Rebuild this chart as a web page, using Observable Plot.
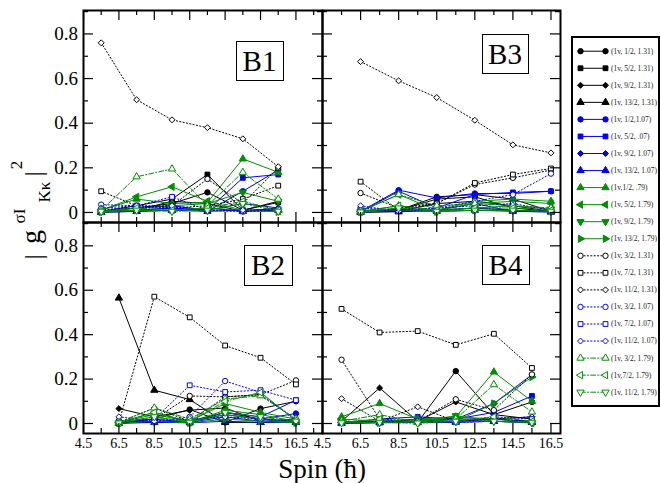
<!DOCTYPE html>
<html><head><meta charset="utf-8">
<script src="https://cdn.jsdelivr.net/npm/d3@7"></script>
<script src="https://cdn.jsdelivr.net/npm/@observablehq/plot@0.6"></script>
<style>
body{margin:0;background:#fff}
#chart{position:relative;width:660px;height:483px;overflow:hidden;font-family:'Liberation Serif','DejaVu Serif',serif;background:#fff}
#chart svg{position:absolute;left:0;top:0}
#chart svg text{font-family:'Liberation Serif','DejaVu Serif',serif !important}
</style></head><body><div id="chart"></div>
<script>
// ---------- data ----------
const spinOdd = [5.5, 7.5, 9.5, 11.5, 13.5, 15.5];
const spinEven = [6.5, 8.5, 10.5, 12.5, 14.5, 16.5];
const xTicks = [4.5, 6.5, 8.5, 10.5, 12.5, 14.5, 16.5];
const xTickLabels = ["4.5", "6.5", "8.5", "10.5", "12.5", "14.5", "16.5"];
const yTicks = [0, 0.2, 0.4, 0.6, 0.8];
const yTickLabels = ["0", "0.2", "0.4", "0.6", "0.8"];
const panelNames = ["B1", "B2", "B3", "B4"];
const seriesLabels = [
  "(1v, 1/2, 1.31)", "(1v, 5/2, 1.31)", "(1v, 9/2, 1.31)", "(1v, 13/2, 1.31)",
  "(1v, 1/2,1.07)", "(1v, 5/2, .07)", "(1v, 9/2, 1.07)", "(1v, 13/2, 1.07)",
  "(1v,1/2, .79)", "(1v, 5/2, 1.79)", "(1v, 9/2, 1.79)", "(1v, 13/2, 1.79)",
  "(1v, 3/2, 1.31)", "(1v, 7/2, 1.31)", "(1v, 11/2, 1.31)",
  "(1v, 3/2, 1.07)", "(1v, 7/2, 1.07)", "(1v, 11/2, 1.07)",
  "(1v, 3/2, 1.79)", "(1v,7/2, 1.79)", "(1v, 11/2, 1.79)"
];
// values per series (legend order), one row per series, columns follow spin list
const b1 = [
  [0.005, 0.02, 0.04, 0.09, 0.01, 0.05],
  [0.005, 0.03, 0.06, 0.17, 0.01, 0.045],
  [0.002, 0.01, 0.05, 0.04, 0.005, 0.02],
  [0.001, 0.005, 0.01, 0.02, 0.005, 0.01],
  [0.005, 0.01, 0.02, 0.005, 0.095, 0.19],
  [0.003, 0.01, 0.02, 0.01, 0.155, 0.17],
  [0.003, 0.02, 0.03, 0.01, 0.04, 0.02],
  [0.001, 0.005, 0.01, 0.005, 0.01, 0.015],
  [0.01, 0.06, 0.04, 0.045, 0.24, 0.18],
  [0.01, 0.07, 0.115, 0.05, 0.01, 0.005],
  [0.005, 0.02, 0.03, 0.04, 0.09, 0.05],
  [0.002, 0.01, 0.01, 0.02, 0.01, 0.003],
  [0.01, 0.02, 0.03, 0.15, 0.04, 0.2],
  [0.095, 0.03, 0.02, 0.03, 0.06, 0.12],
  [0.76, 0.505, 0.415, 0.38, 0.33, 0.205],
  [0.035, 0.03, 0.02, 0.01, 0.005, 0.01],
  [0.01, 0.03, 0.07, 0.01, 0.005, 0.01],
  [0.02, 0.03, 0.03, 0.01, 0.01, 0.015],
  [0.01, 0.16, 0.195, 0.03, 0.18, 0.06],
  [0.005, 0.02, 0.01, 0.02, 0.05, 0.01],
  [0.005, 0.01, 0.005, 0.01, 0.04, 0.005]
];
const b2 = [
  [0.003, 0.02, 0.063, 0.005, 0.067, 0.1],
  [0.002, 0.01, 0.01, 0.05, 0.02, 0.01],
  [0.067, 0.03, 0.06, 0.07, 0.01, 0.005],
  [0.565, 0.15, 0.108, 0.005, 0.005, 0.005],
  [0.003, 0.005, 0.01, 0.04, 0.02, 0.045],
  [0.002, 0.01, 0.005, 0.05, 0.03, 0.105],
  [0.002, 0.02, 0.005, 0.03, 0.01, 0.02],
  [0.001, 0.005, 0.003, 0.01, 0.005, 0.005],
  [0.005, 0.04, 0.01, 0.09, 0.05, 0.02],
  [0.005, 0.05, 0.005, 0.06, 0.04, 0.01],
  [0.003, 0.03, 0.005, 0.04, 0.02, 0.005],
  [0.002, 0.01, 0.003, 0.02, 0.01, 0.003],
  [0.003, 0.02, 0.124, 0.12, 0.13, 0.194],
  [0.005, 0.571, 0.478, 0.351, 0.296, 0.176],
  [0.005, 0.07, 0.01, 0.12, 0.13, 0.02],
  [0.01, 0.01, 0.03, 0.191, 0.14, 0.01],
  [0.01, 0.02, 0.172, 0.142, 0.15, 0.105],
  [0.03, 0.01, 0.02, 0.03, 0.02, 0.01],
  [0.005, 0.07, 0.02, 0.11, 0.125, 0.02],
  [0.003, 0.05, 0.01, 0.1, 0.14, 0.015],
  [0.002, 0.03, 0.005, 0.05, 0.03, 0.01]
];
const b3 = [
  [0.005, 0.01, 0.07, 0.08, 0.06, 0.005],
  [0.003, 0.01, 0.06, 0.07, 0.02, 0.005],
  [0.002, 0.005, 0.04, 0.05, 0.03, 0.005],
  [0.001, 0.003, 0.01, 0.02, 0.01, 0.003],
  [0.005, 0.1, 0.065, 0.085, 0.085, 0.095],
  [0.003, 0.095, 0.02, 0.08, 0.09, 0.095],
  [0.002, 0.015, 0.01, 0.04, 0.005, 0.003],
  [0.001, 0.01, 0.005, 0.01, 0.005, 0.002],
  [0.005, 0.03, 0.01, 0.05, 0.06, 0.05],
  [0.005, 0.08, 0.01, 0.04, 0.05, 0.04],
  [0.003, 0.02, 0.005, 0.02, 0.03, 0.015],
  [0.002, 0.01, 0.003, 0.01, 0.01, 0.005],
  [0.087, 0.02, 0.04, 0.125, 0.155, 0.19],
  [0.138, 0.01, 0.04, 0.132, 0.17, 0.197],
  [0.676, 0.59, 0.515, 0.413, 0.303, 0.267],
  [0.02, 0.01, 0.02, 0.05, 0.08, 0.174],
  [0.01, 0.01, 0.02, 0.03, 0.04, 0.01],
  [0.03, 0.005, 0.01, 0.02, 0.01, 0.005],
  [0.005, 0.08, 0.03, 0.04, 0.03, 0.02],
  [0.003, 0.03, 0.01, 0.02, 0.02, 0.01],
  [0.002, 0.02, 0.005, 0.01, 0.01, 0.005]
];
const b4 = [
  [0.005, 0.01, 0.005, 0.236, 0.04, 0.097],
  [0.003, 0.01, 0.01, 0.02, 0.02, 0.01],
  [0.01, 0.16, 0.01, 0.097, 0.04, 0.02],
  [0.002, 0.005, 0.005, 0.01, 0.01, 0.005],
  [0.003, 0.01, 0.02, 0.02, 0.09, 0.22],
  [0.003, 0.02, 0.03, 0.02, 0.05, 0.124],
  [0.002, 0.005, 0.01, 0.01, 0.02, 0.03],
  [0.001, 0.003, 0.005, 0.005, 0.01, 0.005],
  [0.03, 0.09, 0.02, 0.03, 0.232, 0.1],
  [0.02, 0.01, 0.01, 0.03, 0.02, 0.003],
  [0.01, 0.005, 0.005, 0.035, 0.01, 0.002],
  [0.005, 0.003, 0.02, 0.01, 0.09, 0.209],
  [0.287, 0.02, 0.01, 0.109, 0.06, 0.221],
  [0.516, 0.41, 0.416, 0.354, 0.404, 0.25],
  [0.112, 0.01, 0.075, 0.01, 0.02, 0.03],
  [0.003, 0.005, 0.003, 0.005, 0.02, 0.01],
  [0.005, 0.01, 0.01, 0.01, 0.03, 0.02],
  [0.003, 0.005, 0.005, 0.005, 0.01, 0.005],
  [0.01, 0.04, 0.005, 0.02, 0.175, 0.052],
  [0.005, 0.02, 0.005, 0.01, 0.03, 0.01],
  [0.003, 0.005, 0.002, 0.01, 0.01, 0.005]
];

// ---------- styles ----------
const W = 660, H = 483;
const BLACK = "#000", BLUE = "#0000ff", GREEN = "#009000";
const FONT = "'Liberation Serif', 'DejaVu Serif', serif";
const seriesColor = [BLACK,BLACK,BLACK,BLACK, BLUE,BLUE,BLUE,BLUE, GREEN,GREEN,GREEN,GREEN,
  BLACK,BLACK,BLACK, BLUE,BLUE,BLUE, GREEN,GREEN,GREEN];
const seriesSymbol = ["circle","square","diamond2","triangle","circle","square","diamond2","triangle",
  "triangle","triangle","triangle","triangle","circle","square","diamond2","circle","square","diamond2",
  "triangle","triangle","triangle"];
const seriesRotate = [0,0,0,0,0,0,0,0, 0,-90,180,90, 0,0,0,0,0,0, 0,-90,180];
const seriesFilled = i => i < 12;
const seriesDash = i => i < 12 ? undefined : i < 18 ? "1.2,2.2" : "5,2,1.2,2";

const yDomain = [-0.045, 0.905];
const leftBox = [83, 322], rightBox = [322, 560];
const topBox = [10, 222], botBox = [222, 433];
const DOT_R = 2.7;

function panel(values, xs, xb, yb, xDomain, showX, showY) {
  const [left, right] = xb, [top, bottom] = yb;
  const pw = right - left, ph = bottom - top;
  const majX = xTicks;
  const minX = xTicks.map(v => v + 1).filter(v => v < xDomain[1]);
  const majY = yTicks;
  const minY = yTicks.map(v => v + 0.1).filter(v => v < yDomain[1]);
  const marks = [];
  values.forEach((row, s) => {
    const pts = row.map((v, j) => ({x: xs[j], y: v}));
    marks.push(Plot.line(pts, {x: "x", y: "y", stroke: seriesColor[s], strokeWidth: 1,
      strokeDasharray: seriesDash(s)}));
    marks.push(Plot.dot(pts, {x: "x", y: "y", symbol: seriesSymbol[s], r: DOT_R, rotate: seriesRotate[s],
      stroke: seriesColor[s], strokeWidth: 1, fill: seriesFilled(s) ? seriesColor[s] : "white"}));
  });
  const tk = (arr, len, horiz) => horiz
    ? [Plot.ruleY(arr, {y: d => d, insetRight: pw - len, stroke: BLACK, strokeWidth: 1.2}),
       Plot.ruleY(arr, {y: d => d, insetLeft: pw - len, stroke: BLACK, strokeWidth: 1.2})]
    : [Plot.ruleX(arr, {x: d => d, insetBottom: ph - len, stroke: BLACK, strokeWidth: 1.2}),
       Plot.ruleX(arr, {x: d => d, insetTop: ph - len, stroke: BLACK, strokeWidth: 1.2})];
  marks.push(...tk(majX, 10, false), ...tk(minX, 5, false), ...tk(majY, 10, true), ...tk(minY, 5, true));
  marks.push(Plot.frame({stroke: BLACK, strokeWidth: 2}));
  if (showY) marks.push(Plot.axisY({ticks: yTicks, tickSize: 0, tickPadding: 5.5, fontSize: 19,
    label: null, fill: BLACK, tickFormat: d => yTickLabels[yTicks.indexOf(d)]}));
  if (showX) marks.push(Plot.axisX({ticks: xTicks, tickSize: 0, tickPadding: 5, fontSize: 14,
    label: null, fill: BLACK, tickFormat: d => xTickLabels[xTicks.indexOf(d)]}));
  return Plot.plot({
    width: W, height: H,
    marginLeft: left, marginRight: W - right, marginTop: top, marginBottom: H - bottom,
    x: {domain: xDomain, axis: null},
    y: {domain: yDomain, axis: null},
    style: {background: "transparent", fontFamily: FONT, overflow: "visible"},
    marks
  });
}

const chart = document.getElementById("chart");
chart.append(panel(b1, spinOdd, leftBox, topBox, [4.5, 18], false, true));
chart.append(panel(b2, spinEven, leftBox, botBox, [4.5, 18], true, true));
chart.append(panel(b3, spinEven, rightBox, topBox, [4.5, 17], false, false));
chart.append(panel(b4, spinOdd, rightBox, botBox, [4.5, 17], true, false));

// ---------- legend ----------
const legX0 = 580, legX1 = 605, legTextX = 610.5, legY0 = 50.7, legStep = 17.05;
const legRows = seriesLabels.map((label, i) => ({i, label, y: legY0 + i * legStep}));
const legMarks = [
  Plot.rect([0], {x1: 572, x2: 659, y1: 37, y2: 406, stroke: BLACK, strokeWidth: 2, fill: "white"})
];
legRows.forEach(r => {
  const pts = [{x: legX0, y: r.y}, {x: legX1, y: r.y}];
  legMarks.push(Plot.line(pts, {x: "x", y: "y", stroke: seriesColor[r.i], strokeWidth: 1,
    strokeDasharray: seriesDash(r.i)}));
  legMarks.push(Plot.dot(pts, {x: "x", y: "y", symbol: seriesSymbol[r.i], r: DOT_R, rotate: seriesRotate[r.i],
    stroke: seriesColor[r.i], strokeWidth: 1, fill: seriesFilled(r.i) ? seriesColor[r.i] : "white"}));
});
legMarks.push(Plot.text(legRows, {x: () => legTextX, y: "y", text: "label", textAnchor: "start",
  fontSize: 7.5, fill: "#222"}));
chart.append(Plot.plot({
  width: W, height: H, margin: 0,
  x: {type: "identity", axis: null}, y: {type: "identity", axis: null},
  style: {background: "transparent", fontFamily: FONT},
  marks: legMarks
}));

// ---------- titles & panel labels ----------
const svg = d3.select(chart).append("svg").attr("width", W).attr("height", H)
  .attr("font-family", FONT);
const labelBoxes = [
  {name: panelNames[0], x0: 236, x1: 283, y0: 41, y1: 80},
  {name: panelNames[1], x0: 244, x1: 292, y0: 245, y1: 285},
  {name: panelNames[2], x0: 482, x1: 528, y0: 34, y1: 73},
  {name: panelNames[3], x0: 482, x1: 529, y0: 245, y1: 284}
];
labelBoxes.forEach(b => {
  svg.append("rect").attr("x", b.x0 + 0.5).attr("y", b.y0 + 0.5).attr("width", b.x1 - b.x0)
    .attr("height", b.y1 - b.y0).attr("fill", "white").attr("stroke", BLACK).attr("stroke-width", 1);
  svg.append("text").attr("x", (b.x0 + b.x1) / 2).attr("y", (b.y0 + b.y1) / 2 + 10)
    .attr("text-anchor", "middle").attr("font-size", 29).attr("fill", BLACK).text(b.name);
});
svg.append("text").attr("x", 322).attr("y", 478).attr("text-anchor", "middle")
  .attr("font-size", 27).attr("fill", BLACK).text("Spin (ħ)");
const yt = svg.append("text").attr("transform", "rotate(-90)").attr("text-anchor", "middle").attr("fill", BLACK);
[
  {t: "|", c: 257, b: 42, s: 26},
  {t: "g", c: 237, b: 40, s: 28},
  {t: "σI", c: 216, b: 25, s: 17},
  {t: "Kκ", c: 192, b: 50, s: 17},
  {t: "|", c: 174, b: 42, s: 26},
  {t: "2", c: 165, b: 22, s: 17}
].forEach(p => yt.append("tspan").attr("x", -p.c).attr("y", p.b).attr("font-size", p.s).text(p.t));
</script>
</body></html>
